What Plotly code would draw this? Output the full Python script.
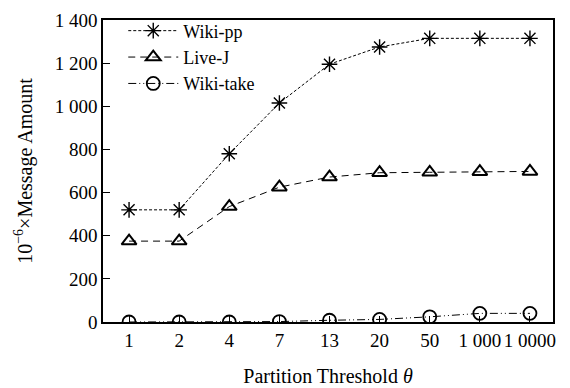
import plotly.graph_objects as go

categories = ["1", "2", "4", "7", "13", "20", "50", "1 000", "1 0000"]
wiki_pp = [520, 520, 780, 1015, 1195, 1275, 1315, 1315, 1315]
live_j = [375, 375, 535, 625, 672, 692, 694, 697, 698]
wiki_take = [0, 0, 0, 2, 8, 12, 24, 40, 40]
y_ticks = [0, 200, 400, 600, 800, 1000, 1200, 1400]

font = "Liberation Serif, Times New Roman, serif"
x = list(range(len(categories)))

fig = go.Figure()
fig.add_trace(go.Scatter(x=x, y=wiki_pp, name="Wiki-pp", mode="lines+markers",
                         line=dict(color="black", width=1, dash="3px,2px"),
                         marker=dict(symbol="asterisk-open", size=13, color="black",
                                     line=dict(width=1.4, color="black"))))
fig.add_trace(go.Scatter(x=x, y=live_j, name="Live-J", mode="lines+markers",
                         line=dict(color="black", width=1, dash="7px,5px"),
                         marker=dict(symbol="triangle-up-open", size=13, color="black",
                                     line=dict(width=2, color="black"))))
fig.add_trace(go.Scatter(x=x, y=wiki_take, name="Wiki-take", mode="lines+markers",
                         line=dict(color="black", width=1, dash="8px,3px,1px,3px,1px,3px"),
                         marker=dict(symbol="circle-open", size=13, color="black",
                                     line=dict(width=1.8, color="black"))))

fig.update_layout(
    width=570, height=388,
    margin=dict(l=103, r=17, t=14, b=66),
    plot_bgcolor="white", paper_bgcolor="white",
    font=dict(family=font, size=19, color="black"),
    separators=". ",
    showlegend=True,
    legend=dict(x=0.045, y=1.025, xanchor="left", yanchor="top",
                bgcolor="rgba(0,0,0,0)", font=dict(size=18),
                itemwidth=50, tracegroupgap=0),
    xaxis=dict(range=[-0.52, 8.46], tickvals=x, ticktext=categories,
               tickfont=dict(size=19), automargin=False,
               showline=True, linecolor="black", linewidth=1.5, mirror=True,
               ticks="inside", ticklen=6, tickcolor="black", showgrid=False,
               zeroline=False,
               title=dict(text="Partition Threshold <i>θ</i>", font=dict(size=20), standoff=19)),
    yaxis=dict(range=[0, 1400], tickvals=y_ticks, tickformat=",d",
               tickfont=dict(size=19), automargin=False,
               showline=True, linecolor="black", linewidth=1.5, mirror=True,
               ticks="inside", ticklen=7, tickcolor="black", showgrid=False,
               zeroline=False,
               title=dict(text="10<sup>−6</sup>×Message Amount", font=dict(size=20), standoff=17)),
)

fig.write_html("out.html")
